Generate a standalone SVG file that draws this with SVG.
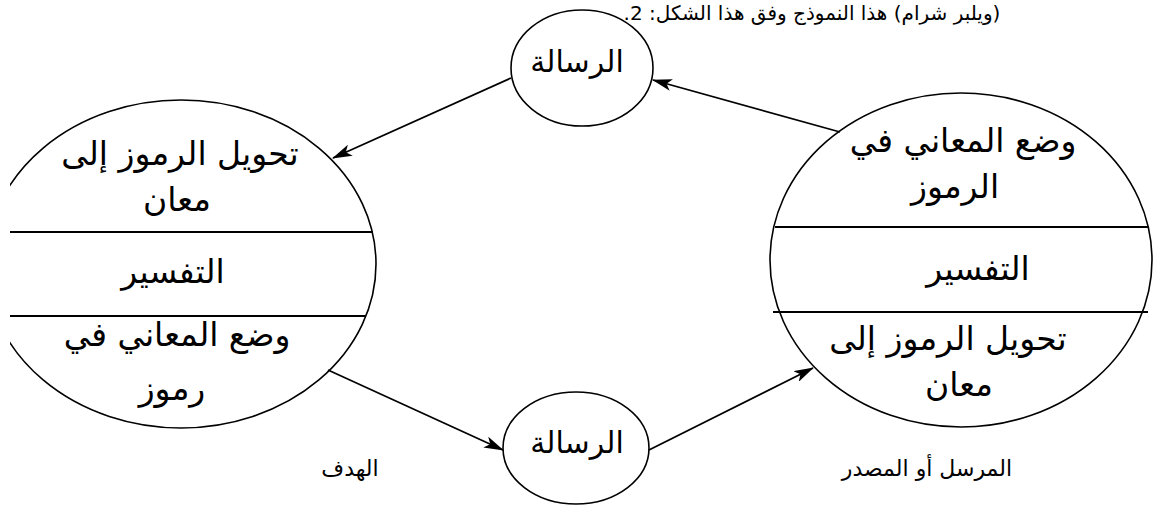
<svg xmlns="http://www.w3.org/2000/svg" width="1154" height="506" viewBox="0 0 1154 506">
<style>
.shape{fill:none;stroke:#000;stroke-width:1.6}
.div{stroke:#000;stroke-width:1.8}
.conn{fill:none;stroke:#000;stroke-width:1.8}
.t{font-family:"DejaVu Sans","Liberation Sans",sans-serif;font-size:33px;fill:#000;text-anchor:middle}
.m{font-family:"DejaVu Sans","Liberation Sans",sans-serif;font-size:30px;fill:#000;text-anchor:middle}
.lbl{font-family:"DejaVu Serif","DejaVu Sans",serif;font-size:22px;fill:#000;text-anchor:middle}
</style>
<defs>
<marker id="arr" viewBox="0 0 20 12" refX="19" refY="6" markerWidth="20" markerHeight="12" markerUnits="userSpaceOnUse" orient="auto">
<path d="M0,0 L20,6 L0,12 L5,6 Z" fill="#000"/>
</marker>
<clipPath id="leftclip"><rect x="10" y="0" width="1144" height="506"/></clipPath>
</defs>
<rect width="1154" height="506" fill="#fff"/>
<text x="812" y="20" direction="rtl" font-family="DejaVu Sans,sans-serif" font-size="20" text-anchor="middle" fill="#000">(ويلبر شرام) هذا النموذج وفق هذا الشكل: 2.</text>
<g id="receiver" clip-path="url(#leftclip)">
<ellipse class="shape" cx="181" cy="264" rx="195" ry="164"/>
<line class="div" x1="10" y1="232" x2="373" y2="232"/>
<line class="div" x1="10" y1="316" x2="365" y2="316"/>
<text class="t" x="180" y="165">تحويل الرموز إلى</text>
<text class="t" x="177" y="211">معان</text>
<text class="t" x="173" y="283">التفسير</text>
<text class="t" x="177" y="346">وضع المعاني في</text>
<text class="t" x="172" y="400">رموز</text>
</g>
<g id="sender">
<ellipse class="shape" cx="961" cy="260" rx="191" ry="167"/>
<line class="div" x1="775" y1="227" x2="1148" y2="227"/>
<line class="div" x1="773" y1="312" x2="1148" y2="312"/>
<text class="t" x="963" y="152">وضع المعاني في</text>
<text class="t" x="955" y="198">الرموز</text>
<text class="t" x="978" y="280">التفسير</text>
<text class="t" x="948" y="350">تحويل الرموز إلى</text>
<text class="t" x="959" y="396">معان</text>
</g>
<g id="msg-top">
<ellipse class="shape" cx="582" cy="68" rx="71" ry="58"/>
<text class="m" x="577" y="72">الرسالة</text>
</g>
<g id="msg-bottom">
<ellipse class="shape" cx="576" cy="448" rx="73" ry="56"/>
<text class="m" x="577" y="453">الرسالة</text>
</g>
<g id="label-target"><text class="lbl" x="350" y="476">الهدف</text></g>
<g id="label-source"><text class="lbl" x="927" y="476">المرسل أو المصدر</text></g>
<g id="connectors">
<line class="conn" x1="840" y1="132" x2="653" y2="80" marker-end="url(#arr)"/>
<line class="conn" x1="511" y1="78" x2="333" y2="158" marker-end="url(#arr)"/>
<line class="conn" x1="328" y1="370" x2="503" y2="450" marker-end="url(#arr)"/>
<line class="conn" x1="649" y1="450" x2="813" y2="368" marker-end="url(#arr)"/>
</g>
</svg>
